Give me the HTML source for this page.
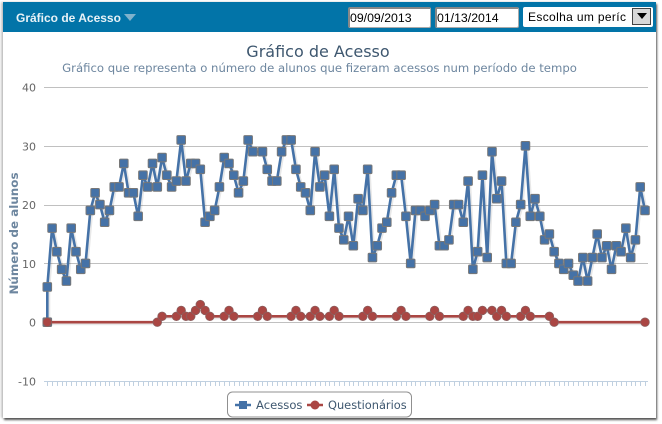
<!DOCTYPE html>
<html lang="pt">
<head>
<meta charset="utf-8">
<title>Gráfico de Acesso</title>
<style>
html,body{margin:0;padding:0;background:#fff;}
body{width:662px;height:424px;overflow:hidden;position:relative;font-family:"Liberation Sans",sans-serif;}
#panel{position:absolute;left:3px;top:2px;width:653px;height:416px;background:#fff;box-shadow:1px 2px 2px #555,-2px 0 2px #ccc;}
#header{position:absolute;left:3px;top:2px;width:653px;height:30px;background:#0274a8;}
#header-title{position:absolute;left:16px;top:11px;color:#e8f2f7;font:bold 12px/14px "Liberation Sans",sans-serif;}
#header-arrow{position:absolute;left:124px;top:14px;width:0;height:0;border-left:6.5px solid transparent;border-right:6.5px solid transparent;border-top:7px solid #7fb2cc;}
.date{position:absolute;top:7px;height:21px;box-sizing:border-box;background:#fff;border:1px solid #aaa;border-top:2px solid #888;border-left:2px solid #888;border-radius:2px;font:12.3px/18px "Liberation Sans",sans-serif;color:#000;padding-left:0;}
#period{position:absolute;left:523px;top:7px;width:130px;height:20px;box-sizing:border-box;background:#fff;border-radius:2px;font:12px/20px "Liberation Sans",sans-serif;color:#000;padding-left:5px;letter-spacing:.35px;overflow:hidden;white-space:nowrap;}
#period-button{position:absolute;left:632px;top:8px;width:19px;height:17px;box-sizing:border-box;background:#d8d8d8;border:1px solid #444;}
#period-button:after{content:"";position:absolute;left:4px;top:4px;border-left:5px solid transparent;border-right:5px solid transparent;border-top:6px solid #000;}
svg{position:absolute;left:0;top:0;}
svg text{font-family:"DejaVu Sans",sans-serif;}
</style>
</head>
<body>
<div id="panel"></div>
<div id="header"></div>
<div id="header-title">Gráfico de Acesso</div>
<div id="header-arrow"></div>
<div class="date" style="left:348px;width:83px">09/09/2013</div>
<div class="date" style="left:435px;width:84px">01/13/2014</div>
<div id="period">Escolha um períc</div>
<div id="period-button"></div>

<svg id="chart" width="662" height="424" viewBox="0 0 662 424">
  <text x="318" y="57" text-anchor="middle" font-size="16" fill="#3e576f">Gráfico de Acesso</text>
  <text x="319.5" y="72" text-anchor="middle" font-size="11.66" fill="#6d869f">Gráfico que representa o número de alunos que fizeram acessos num período de tempo</text>
  <text transform="translate(18,233.5) rotate(-90)" text-anchor="middle" font-size="11.9" font-weight="bold" fill="#6d869f">Número de alunos</text>
  <g id="grid"></g>
  <g id="ticks"></g>
  <g id="series"></g>
  <g>
    <rect x="227.5" y="392" width="184" height="25" rx="5" ry="5" fill="#fff" stroke="#909090"/>
    <g>
      <line x1="235" y1="405" x2="251" y2="405" stroke="#4572a7" stroke-width="2.5"/>
      <rect x="239" y="401" width="8" height="8" fill="#4572a7"/>
      <text x="256" y="409" font-size="11.6" fill="#3e576f">Acessos</text>
    </g>
    <g>
      <line x1="307" y1="405" x2="323" y2="405" stroke="#aa4643" stroke-width="2.5"/>
      <circle cx="315" cy="405" r="4.5" fill="#aa4643"/>
      <text x="328" y="409" font-size="11.4" fill="#3e576f">Questionários</text>
    </g>
  </g>
</svg>

<script>
const acessoInicial = 0;
const acessos = [
  6,16,12,9,7,16,12,9,10,19,
  22,20,17,19,23,23,27,22,22,18,
  25,23,27,23,28,25,23,24,31,24,
  27,27,26,17,18,19,23,28,27,25,
  22,24,31,29,null,29,26,24,24,29,
  31,31,26,23,22,19,29,23,25,18,
  26,16,14,18,13,21,19,26,11,13,
  16,17,22,25,25,18,10,19,19,18,
  19,20,13,13,14,20,20,17,24,9,
  12,25,11,29,21,24,10,10,17,20,
  30,18,21,18,14,15,12,10,9,10,
  8,7,11,7,11,15,11,13,9,13,
  12,16,11,14,23,19
];
const questionarios = [
  0,null,null,null,null,null,null,null,null,null,
  null,null,null,null,null,null,null,null,null,null,
  null,null,null,0,1,null,null,1,2,1,
  1,2,3,2,1,null,null,1,2,1,
  null,null,null,null,1,2,1,null,null,null,
  null,1,2,1,null,1,2,1,null,1,
  2,1,null,null,null,null,1,2,1,null,
  null,null,null,1,2,1,null,null,null,null,
  1,2,1,null,null,null,null,1,2,1,
  1,2,null,2,1,2,1,null,null,1,
  2,1,null,null,null,1,0,null,null,null,
  null,null,null,null,null,null,null,null,null,null,
  null,null,null,null,null,0
];
const yTicks = [40,30,20,10,0,-10];

const NS = 'http://www.w3.org/2000/svg';
const categoryCount = acessos.length;
const xStart = 47.3, xEnd = 645;
const yTop = 87, yBottom = 381, yMax = 40, yMin = -10;
function xAxis(i){ return xStart + (xEnd - xStart) * i / (categoryCount - 1); }
function yAxis(v){ return yTop + (yMax - v) * (yBottom - yTop) / (yMax - yMin); }
function make(tag, attrs, parent){
  const el = document.createElementNS(NS, tag);
  for (const k in attrs) el.setAttribute(k, attrs[k]);
  parent.appendChild(el);
  return el;
}

const grid = document.getElementById('grid');
yTicks.forEach(function(t){
  const y = Math.round(yAxis(t)) + .5;
  const line = make('line', {x1:44, x2:648, y1:y, y2:y, stroke: t === yMin ? '#c0d0e0' : '#c0c0c0', 'stroke-width':1}, grid);
  
  
  const label = make('text', {x:36, y:yAxis(t) + 4.5, 'text-anchor':'end', 'font-size':11, fill:'#666'}, grid);
  label.textContent = t;
  
  
});

const ticks = document.getElementById('ticks');
for (let i = 0; i < categoryCount; i++) {
  const x = Math.round(xAxis(i)) + .5;
  const tick = make('line', {x1:x, x2:x, y1:381, y2:386, stroke:'#c0d0e0', 'stroke-width':1}, ticks);
  
  
}

const series = document.getElementById('series');
function pointsOf(values){
  const pts = [];
  values.forEach(function(v, i){ if (v !== null) pts.push([xAxis(i), yAxis(v)]); });
  return pts;
}
function pathOf(pts){
  return pts.map(function(p){ return p[0].toFixed(2) + ',' + p[1].toFixed(2); }).join(' ');
}
function drawLine(pts, color, name){
  make('polyline', {points:pathOf(pts), fill:'none', stroke:'rgba(0,0,0,.09)', 'stroke-width':4, transform:'translate(1,1)', 'stroke-linejoin':'round'}, series);
  const line = make('polyline', {points:pathOf(pts), fill:'none', stroke:color, 'stroke-width':2.6, 'stroke-linejoin':'round'}, series);
  
  
}

const ptsA = [[xAxis(0), yAxis(acessoInicial)]].concat(pointsOf(acessos));
drawLine(ptsA, '#4572a7', 'acessos-line');
ptsA.forEach(function(p){
  const m = make('rect', {x:p[0]-4.3, y:p[1]-4.3, width:8.6, height:8.6, rx:1, fill:'#4572a7', stroke:'#777', 'stroke-width':1}, series);
  
  
});

const ptsQ = pointsOf(questionarios);
drawLine(ptsQ, '#aa4643', 'questionarios-line');
ptsQ.forEach(function(p){
  const m = make('circle', {cx:p[0], cy:p[1], r:4.3, fill:'#aa4643', stroke:'#8a6060', 'stroke-width':.8}, series);
  
  
});
</script>
</body>
</html>
